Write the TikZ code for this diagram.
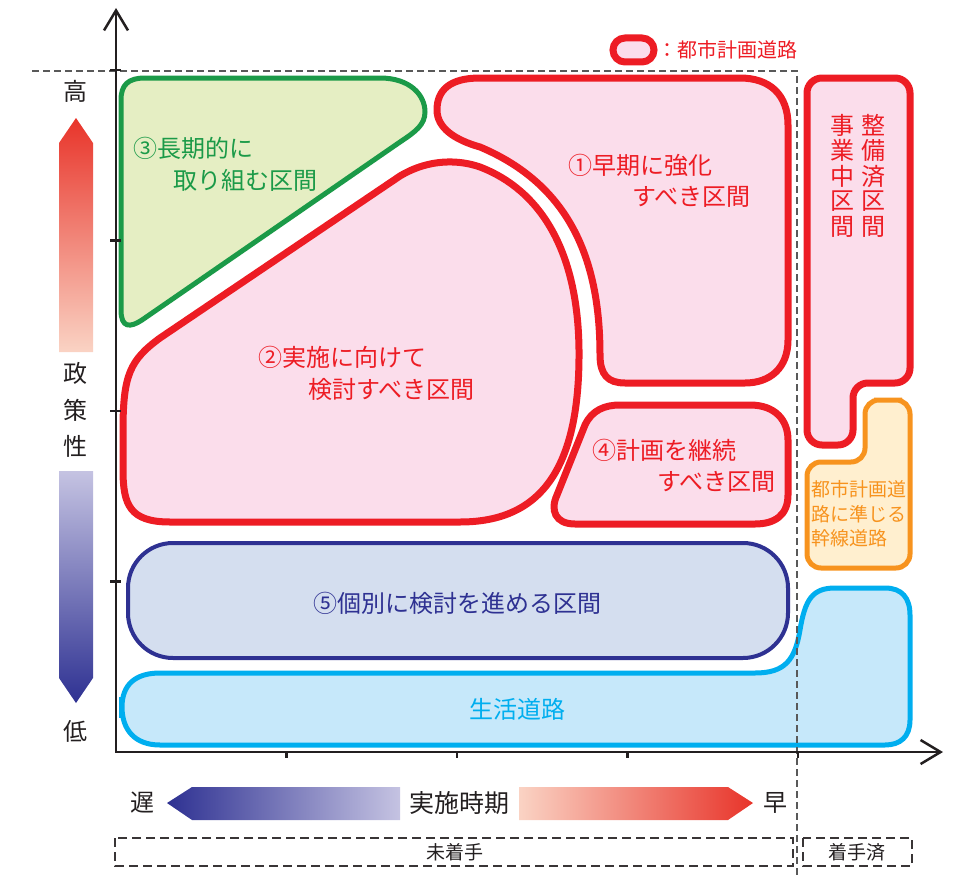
\documentclass[tikz,border=0pt]{standalone}
\usepackage{fontspec}
\setmainfont{Noto Sans CJK JP}
\usetikzlibrary{arrows.meta}

\definecolor{cityred}{HTML}{ED1C24}
\definecolor{pinkfill}{HTML}{FBDDEB}
\definecolor{longgreen}{HTML}{1B9A48}
\definecolor{greenfill}{HTML}{E5EEC3}
\definecolor{navy}{HTML}{2E3192}
\definecolor{navyfill}{HTML}{D4DEEF}
\definecolor{lifecyan}{HTML}{00AEEF}
\definecolor{cyanfill}{HTML}{C6E8FA}
\definecolor{trunkorange}{HTML}{F7931E}
\definecolor{orangefill}{HTML}{FFEFCF}
\definecolor{axisgray}{HTML}{231F20}
\definecolor{hotred}{HTML}{E8342A}
\definecolor{palered}{HTML}{FAD3C4}
\definecolor{palenavy}{HTML}{C5C3E2}

\begin{document}
\begin{tikzpicture}[x=1pt, y=-1pt,
    every node/.style={inner sep=0pt},
    zonetext/.style={font=\fontsize{24}{28}\selectfont, anchor=west},
    axistext/.style={font=\fontsize{24}{28}\selectfont, text=axisgray},
    redzone/.style={draw=cityred, fill=pinkfill, line width=7pt},
    axisline/.style={draw=axisgray, line width=2.5pt},
    guide/.style={draw=gray!70!black, dash pattern=on 7pt off 4pt, line width=1.5pt},
    periodbox/.style={draw=axisgray!90, dash pattern=on 9pt off 5pt, line width=2pt}]
    \useasboundingbox (0,0) rectangle (963,875);

    % Zone 3 (long term)
    \draw[draw=longgreen, fill=greenfill, line width=5pt]
        (121,100) .. controls (121,85) and (128,78) .. (145,78) -- (380,78)
        .. controls (410,78) and (425,95) .. (425,112)
        .. controls (425,125) and (415,132) .. (400,142) -- (142,320)
        .. controls (130,328) and (121,328) .. (121,310) -- cycle;

    % Zone 2 (to be studied)
    \draw[redzone]
        (123,470) -- (123,430) .. controls (123,375) and (130,360) .. (160,338) -- (400,176)
        .. controls (430,158) and (460,160) .. (480,167)
        .. controls (540,190) and (578,250) .. (579,350)
        .. controls (580,470) and (540,522) .. (460,522) -- (170,522)
        .. controls (130,522) and (123,505) .. (123,470) -- cycle;

    % Zone 1 (early)
    \draw[redzone]
        (480,147) .. controls (455,140) and (437,128) .. (437,110)
        .. controls (437,90) and (450,78) .. (480,78) -- (740,78)
        .. controls (770,78) and (788,95) .. (788,125) -- (788,340)
        .. controls (788,368) and (770,383) .. (745,383) -- (625,383)
        .. controls (608,383) and (600,375) .. (600,355)
        .. controls (600,260) and (570,185) .. (480,147) -- cycle;

    % Zone 4 (continue)
    \draw[redzone]
        (620,405) -- (750,405) .. controls (775,405) and (788,420) .. (788,440) -- (788,495)
        .. controls (788,515) and (775,524) .. (755,524) -- (575,524)
        .. controls (555,524) and (550,510) .. (557,495) -- (585,425)
        .. controls (592,410) and (605,405) .. (620,405) -- cycle;

    % Zone 5 (individual)
    \draw[draw=navy, fill=navyfill, line width=4pt, rounded corners=45pt]
        (128,543) rectangle (788,658);

    % Local roads
    \fill[lifecyan] (119,697) rectangle (125,718);
    \draw[draw=lifecyan, fill=cyanfill, line width=5pt]
        (122,707) .. controls (122,685) and (135,673) .. (160,673) -- (755,673)
        .. controls (785,673) and (795,660) .. (800,630)
        .. controls (805,600) and (812,588) .. (835,588) -- (885,588)
        .. controls (902,588) and (910,598) .. (910,615) -- (910,720)
        .. controls (910,737) and (900,745) .. (885,745) -- (160,745)
        .. controls (135,745) and (122,730) .. (122,707) -- cycle;

    % Done / under way
    \draw[redzone, rounded corners=15pt]
        (858,78) -- (910,78) -- (910,383) -- (853,383) -- (853,445) -- (807,445) -- (807,78) -- cycle;

    % Trunk roads
    \draw[draw=trunkorange, fill=orangefill, line width=5pt, rounded corners=14pt]
        (888,400) -- (910,400) -- (910,568) -- (807,568) -- (807,462) -- (865,462) -- (865,400) -- cycle;

    % Axes
    \draw[guide] (32,71) -- (797,71) -- (797,875);
    \draw[axisline, {Straight Barb[length=20pt, width=24pt]}-{Straight Barb[length=20pt, width=24pt]}]
        (116,8) -- (116,752) -- (943,752);
    \foreach \i in {1,...,4} {
        \draw[axisline] (110,{752-170.5*\i}) -- (121,{752-170.5*\i});
        \draw[axisline] ({116+170.5*\i},752) -- ({116+170.5*\i},758);
    }

    % Legend
    \draw[redzone, rounded corners=12pt] (613,38) rectangle (654,62);
    \node[anchor=west, text=cityred, font=\fontsize{20}{24}\selectfont] (legend) at (657,50) {：都市計画道路};

    % Zone labels
    \node[zonetext, text=longgreen] (Z3a) at (133,148) {③長期的に};
    \node[zonetext, text=longgreen] (Z3b) at (173,180) {取り組む区間};
    \node[zonetext, text=cityred] (Z2a) at (258,357) {②実施に向けて};
    \node[zonetext, text=cityred] (Z2b) at (308,389) {検討すべき区間};
    \node[zonetext, text=cityred] (Z1a) at (568,165) {①早期に強化};
    \node[zonetext, text=cityred] (Z1b) at (632,197) {すべき区間};
    \node[zonetext, text=cityred] (Z4a) at (592,450) {④計画を継続};
    \node[zonetext, text=cityred] (Z4b) at (657,482) {すべき区間};
    \node[zonetext, text=navy, anchor=center] (Z5) at (457,603) {⑤個別に検討を進める区間};
    \node[zonetext, text=lifecyan, anchor=center] (life) at (517,709) {生活道路};

    % Vertical labels
    \foreach \c [count=\i] in {整,備,済,区,間} {
        \node[font=\fontsize{24}{28}\selectfont, text=cityred] (seibi\i) at (873,{99.5+25.5*\i}) {\c};
    }
    \foreach \c [count=\i] in {事,業,中,区,間} {
        \node[font=\fontsize{24}{28}\selectfont, text=cityred] (jigyo\i) at (842,{99.5+25.5*\i}) {\c};
    }
    \node[anchor=west, align=left, text=trunkorange, font=\fontsize{19}{24.5}\selectfont] (trunk) at (811,514)
        {都市計画道\\路に準じる\\幹線道路};

    % Policy axis
    \shade[top color=hotred, bottom color=palered] (59,352) -- (59,143) -- (76,118) -- (93,143) -- (93,352) -- cycle;
    \shade[top color=palenavy, bottom color=navy] (59,471) -- (59,678) -- (76,703) -- (93,678) -- (93,471) -- cycle;
    \node[axistext] (high) at (75,91) {高};
    \foreach \c [count=\i] in {政,策,性} {
        \node[axistext] (policy\i) at (75,{337+36.5*\i}) {\c};
    }
    \node[axistext] (low) at (75,731) {低};

    % Timing axis
    \shade[left color=navy, right color=palenavy] (167,803) -- (192,787) -- (400,787) -- (400,820) -- (192,820) -- cycle;
    \shade[left color=palered, right color=hotred] (519,787) -- (728,787) -- (753,803) -- (728,820) -- (519,820) -- cycle;
    \node[axistext] (late) at (142,803) {遅};
    \node[axistext, font=\fontsize{25}{28}\selectfont] (timing) at (459,803) {実施時期};
    \node[axistext] (early) at (775,803) {早};

    % Period boxes
    \draw[periodbox] (115,838) rectangle (793,866);
    \node[font=\fontsize{19}{22}\selectfont, text=axisgray] (notyet) at (455,852) {未着手};
    \draw[periodbox] (803,838) rectangle (912,866);
    \node[font=\fontsize{19}{22}\selectfont, text=axisgray] (started) at (857,852) {着手済};
\end{tikzpicture}
\end{document}
